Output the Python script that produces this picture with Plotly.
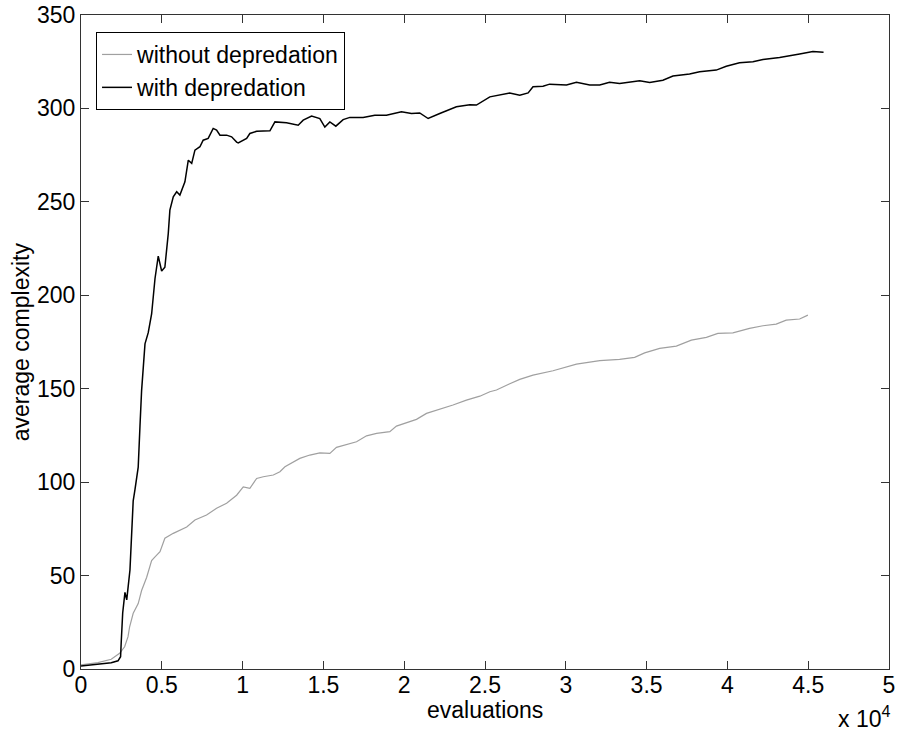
import plotly.graph_objects as go

# evaluations (x 10^4) and average complexity
with_x = [0, 0.105, 0.187, 0.229, 0.245, 0.249, 0.255, 0.258, 0.272, 0.283, 0.303, 0.323, 0.334,
          0.354, 0.365, 0.375, 0.396, 0.416, 0.437, 0.447, 0.458, 0.478, 0.499, 0.519, 0.530,
          0.540, 0.550, 0.571, 0.592, 0.612, 0.643, 0.664, 0.685, 0.705, 0.736, 0.756, 0.787,
          0.818, 0.839, 0.860, 0.901, 0.932, 0.963, 0.973, 1.025, 1.045, 1.087, 1.169, 1.200,
          1.272, 1.344, 1.375, 1.427, 1.478, 1.509, 1.540, 1.577, 1.622, 1.664, 1.746, 1.818,
          1.890, 1.983, 2.045, 2.096, 2.148, 2.220, 2.323, 2.406, 2.447, 2.530, 2.591, 2.653,
          2.715, 2.767, 2.797, 2.859, 2.900, 3.004, 3.066, 3.148, 3.210, 3.271, 3.333, 3.457,
          3.519, 3.601, 3.663, 3.766, 3.828, 3.931, 3.993, 4.075, 4.158, 4.220, 4.323, 4.364,
          4.447, 4.529, 4.595]
with_y = [1.6, 2.5, 3.4, 4.4, 6.6, 14.6, 23.5, 30, 41, 37, 53, 90, 96,
          108, 130, 149, 174, 180, 190, 201, 209, 221, 213, 215, 224,
          233, 245.6, 252.7, 255.4, 253.6, 260.7, 272.3, 270.6, 277.7, 279.5, 283, 284,
          289.3, 288.4, 285.7, 285.7, 284.8, 282, 281.6, 284, 286.6, 287.8, 288, 292.8,
          292.3, 291, 293.7, 295.9, 294.6, 290, 292.8, 290.5, 294, 295.2, 295.2, 296.4,
          296.4, 298.2, 297.3, 297.6, 294.6, 297.3, 300.9, 302, 301.8, 306.2, 307.1, 308.3,
          307.1, 308.3, 311.6, 311.9, 313, 312.5, 314, 312.5, 312.5, 314, 313.3, 314.8,
          313.9, 315.1, 317.3, 318.4, 319.6, 320.5, 322.6, 324.4, 325, 326.2, 327.3, 328,
          329.1, 330.4, 330]

without_x = [0, 0.105, 0.187, 0.239, 0.270, 0.291, 0.301, 0.311, 0.323, 0.354, 0.375, 0.406,
             0.437, 0.458, 0.489, 0.519, 0.571, 0.654, 0.705, 0.777, 0.839, 0.901, 0.963,
             1.004, 1.045, 1.087, 1.128, 1.190, 1.231, 1.262, 1.354, 1.416, 1.478, 1.540,
             1.581, 1.705, 1.767, 1.829, 1.911, 1.952, 2.014, 2.076, 2.138, 2.220, 2.302,
             2.385, 2.468, 2.530, 2.571, 2.650, 2.715, 2.797, 2.921, 3.066, 3.210, 3.333,
             3.426, 3.488, 3.581, 3.684, 3.777, 3.870, 3.941, 4.034, 4.137, 4.220, 4.302,
             4.364, 4.447, 4.498]
without_y = [2.2, 3.4, 5.2, 8.4, 11.9, 17.3, 22.6, 26, 29.8, 35, 42, 49,
             58, 60, 62.8, 70, 72.6, 76, 79.7, 82.4, 86, 88.7, 93,
             97.5, 96.7, 102, 102.9, 103.8, 105.6, 108.2, 112.7, 114.5, 115.7, 115.4,
             118.6, 121.6, 124.8, 126.1, 127, 130, 132, 133.6, 136.8, 139, 141.3,
             143.9, 146, 148.4, 149.3, 152.5, 155, 157.3, 159.6, 163.2, 165, 165.7,
             166.8, 169.2, 171.6, 172.8, 176, 177.5, 179.6, 179.9, 182.3, 183.7, 184.6,
             186.7, 187.3, 189.4]

x_ticks = [0, 0.5, 1, 1.5, 2, 2.5, 3, 3.5, 4, 4.5, 5]
x_tick_labels = ["0", "0.5", "1", "1.5", "2", "2.5", "3", "3.5", "4", "4.5", "5"]
y_ticks = [0, 50, 100, 150, 200, 250, 300, 350]

FONT = "Liberation Sans, Arial, sans-serif"

fig = go.Figure()
fig.add_trace(go.Scatter(x=without_x, y=without_y, mode="lines", name="without depredation",
                         line=dict(color="#a0a0a0", width=1.2)))
fig.add_trace(go.Scatter(x=with_x, y=with_y, mode="lines", name="with depredation",
                         line=dict(color="#000000", width=1.5)))

axis_common = dict(showgrid=False, zeroline=False, showline=True, linecolor="#333333",
                   linewidth=1, mirror="allticks", ticks="inside", ticklen=8,
                   tickcolor="#333333", automargin=False,
                   tickfont=dict(family=FONT, size=23, color="black"))

fig.update_xaxes(range=[0, 5], tickvals=x_ticks, ticktext=x_tick_labels,
                 ticklabelstandoff=-5, **axis_common)
fig.update_yaxes(range=[0, 350], tickvals=y_ticks, **axis_common)

fig.update_layout(
    width=897, height=733,
    margin=dict(l=81, r=8, t=15, b=64, autoexpand=False),
    paper_bgcolor="white", plot_bgcolor="white",
    font=dict(family=FONT, size=23, color="black"),
    showlegend=True,
    legend=dict(x=0.0186, y=0.974, xanchor="left", yanchor="top",
                bordercolor="black", borderwidth=1, bgcolor="white",
                font=dict(family=FONT, size=23, color="black"),
                tracegroupgap=0, itemwidth=30),
    annotations=[
        dict(text="evaluations", xref="paper", yref="paper", x=0.5, y=-0.062,
             xanchor="center", yanchor="middle", showarrow=False,
             font=dict(family=FONT, size=23, color="black")),
        dict(text="average complexity", xref="paper", yref="paper", x=-0.074, y=0.5,
             xanchor="center", yanchor="middle", showarrow=False, textangle=-90,
             font=dict(family=FONT, size=23, color="black")),
        dict(text="x 10<sup>4</sup>", xref="paper", yref="paper", x=1.004, y=-0.074,
             xanchor="right", yanchor="middle", showarrow=False,
             font=dict(family=FONT, size=23, color="black")),
    ],
)

# remove the default page margin so the figure sits at the window's top-left corner
fig.write_html("out.html", config={"displayModeBar": False},
               post_script="document.body.style.margin='0';document.body.style.overflow='hidden';")
